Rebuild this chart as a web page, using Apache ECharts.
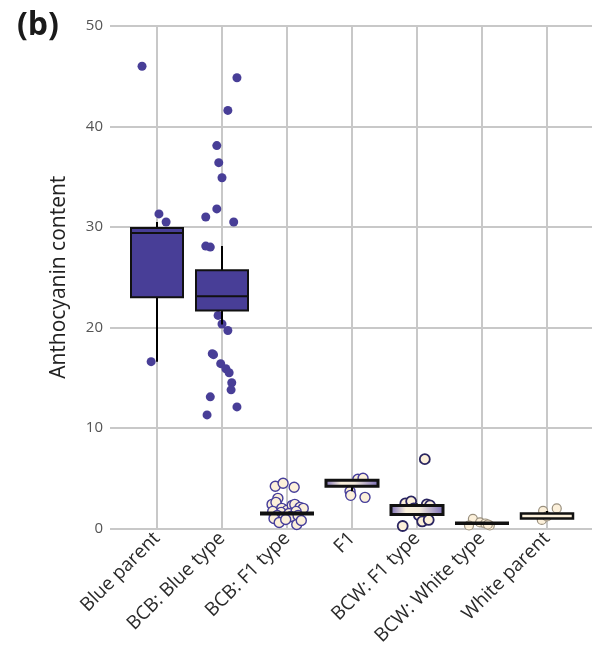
<!DOCTYPE html>
<html><head><meta charset="utf-8">
<script src="https://cdn.jsdelivr.net/npm/echarts@6/dist/echarts.min.js"></script>
<style>html,body{margin:0;padding:0;background:#fff}#c{width:592px;height:652px}</style>
</head><body><div id="c"></div>
<script>
// ---------- data ----------
const categories = ['Blue parent','BCB: Blue type','BCB: F1 type','F1','BCW: F1 type','BCW: White type','White parent'];
const yTicks = [0, 10, 20, 30, 40, 50];

// box statistics per category
const boxMin    = [16.6, 20.3, 1.45, 3.7, 1.4, 0.45, 1.0];
const boxQ1     = [23.0, 21.7, 1.4,  4.2, 1.4, 0.45, 1.0];
const boxMedian = [29.4, 23.1, 1.5,  4.75, 2.25, 0.5, 1.25];
const boxQ3     = [29.9, 25.7, 1.6,  4.8, 2.3, 0.6, 1.5];
const boxMax    = [30.5, 28.1, 1.6,  4.8, 2.5, 0.6, 1.75];

// jittered points: [horizontal jitter (fraction of category spacing), value]
const blueParentPts = [[-0.23,46.0],[0.03,31.3],[0.14,30.5],[-0.09,16.6]];
const bcbBlueTypePts = [
  [0.23,44.85],[0.09,41.6],[-0.08,38.1],[-0.05,36.4],[0.0,34.9],[-0.08,31.8],
  [-0.25,31.0],[0.18,30.5],[-0.25,28.1],[-0.18,28.0],[-0.06,21.2],[0.0,20.35],
  [0.09,19.7],[-0.15,17.4],[-0.13,17.3],[-0.02,16.4],[0.06,15.9],[0.11,15.5],
  [0.15,14.5],[0.14,13.8],[-0.18,13.1],[0.23,12.1],[-0.23,11.3]
];
const bcbF1TypePts = [
  [-0.18,4.2],[-0.06,4.5],[0.11,4.1],[-0.14,3.0],[-0.23,2.4],[-0.17,2.6],
  [-0.08,2.0],[0.0,1.8],[0.08,2.3],[0.12,2.4],[0.2,2.1],[0.25,2.0],
  [-0.22,1.7],[-0.09,1.6],[0.03,1.5],[0.14,1.7],[-0.15,1.3],[-0.05,1.1],
  [0.06,1.2],[0.17,1.3],[-0.2,1.0],[-0.12,0.6],[0.15,0.4],[0.22,0.8],[-0.02,0.9]
];
const f1Pts = [[-0.03,3.7],[-0.02,3.3],[0.2,3.1],[0.09,4.9],[0.17,5.0]];
const bcwF1TypePts = [
  [0.12,6.9],[-0.18,2.5],[-0.09,2.7],[0.15,2.4],[0.2,2.3],[-0.05,2.0],
  [0.1,1.8],[0.03,1.3],[0.08,0.7],[0.18,0.85],[-0.22,0.25]
];
const bcwWhiteTypePts = [[-0.14,0.95],[-0.2,0.3],[-0.03,0.6],[0.05,0.5],[0.12,0.3],[0.09,0.4]];
const whiteParentPts = [[-0.06,1.75],[0.15,2.0],[-0.08,0.85],[0.0,1.2]];

// ---------- styles ----------
const BLUE = '#483e97';
const CREAM = '#fcf0da';
const grad = () => new echarts.graphic.LinearGradient(0,0,1,0,[
  {offset:0, color:'#7466b4'},{offset:0.3, color:'#fbf1dc'},
  {offset:0.55, color:'#f2e9dc'},{offset:1, color:'#7466b4'}]);
const boxStyles = [
  {fill: BLUE, lw: 2, med: 2},
  {fill: BLUE, lw: 2, med: 2},
  {fill: '#000', lw: 2, med: 2},
  {fill: 'grad', lw: 3, med: 0},
  {fill: 'grad', lw: 3, med: 0},
  {fill: '#000', lw: 2, med: 2},
  {fill: CREAM, lw: 2.5, med: 0}
];
const pointGroups = [
  {pts: blueParentPts,  fill: BLUE,  border: BLUE,     size: 9, bw: 0},
  {pts: bcbBlueTypePts, fill: BLUE,  border: BLUE,     size: 9, bw: 0},
  {pts: bcbF1TypePts,   fill: CREAM, border: '#463e9a', size: 10, bw: 1.4},
  {pts: f1Pts,          fill: CREAM, border: '#463e9a', size: 10, bw: 1.4},
  {pts: bcwF1TypePts,   fill: CREAM, border: '#2a2560', size: 10, bw: 1.8},
  {pts: bcwWhiteTypePts,fill: CREAM, border: '#9a907e', size: 9, bw: 1.2},
  {pts: whiteParentPts, fill: CREAM, border: '#9a907e', size: 9, bw: 1.2}
];

const GRID_COLOR = '#c8c8c8';
const chart = echarts.init(document.getElementById('c'));

const scatterSeries = pointGroups.map((g, ci) => ({
  type: 'scatter', xAxisIndex: 2, yAxisIndex: 1, z: 3, clip: false,
  symbolSize: g.size,
  itemStyle: {color: g.fill, borderColor: g.border, borderWidth: g.bw, opacity: 1},
  data: g.pts.map(p => [ci + p[0], p[1]])
}));

const boxSeries = {
  type: 'custom', xAxisIndex: 2, yAxisIndex: 1, z: 5, clip: false,
  data: categories.map((c, i) => [i, boxMin[i], boxQ1[i], boxMedian[i], boxQ3[i], boxMax[i]]),
  renderItem: function (params, api) {
    const i = api.value(0);
    const half = api.size([0.8, 0])[0] / 2;
    const cx = api.coord([i, 0])[0];
    const yv = k => api.coord([i, api.value(k)])[1];
    const yMin = yv(1), yQ1 = yv(2), yMed = yv(3), yQ3 = yv(4), yMax = yv(5);
    const st = boxStyles[params.dataIndex];
    const ch = [];
    ch.push({type:'line', shape:{x1:cx,y1:yMin,x2:cx,y2:yQ1}, style:{stroke:'#000', lineWidth:2}});
    ch.push({type:'line', shape:{x1:cx,y1:yQ3,x2:cx,y2:yMax}, style:{stroke:'#000', lineWidth:2}});
    ch.push({type:'rect', shape:{x:cx-half, y:yQ3, width:2*half, height:Math.max(yQ1-yQ3, 0.5)},
      style:{fill: st.fill === 'grad' ? grad() : st.fill, stroke:'#111', lineWidth: st.lw}});
    if (st.med > 0) ch.push({type:'line', shape:{x1:cx-half,y1:yMed,x2:cx+half,y2:yMed}, style:{stroke:'#111', lineWidth:st.med}});
    return {type:'group', children: ch};
  }
};

const FONT = 'Open Sans';
chart.setOption({
  animation: false,
  backgroundColor: '#fff',
  textStyle: {fontFamily: FONT},
  title: {text: '(b)', left: 12, top: 5, textStyle: {fontSize: 32, fontWeight: 'bold', color: '#1a1a1a', fontFamily: FONT}},
  grid: [
    {left: 110, right: 0, top: 26, bottom: 123.5},
    {left: 157, right: 45, top: 26, bottom: 123.5}
  ],
  xAxis: [
    {gridIndex: 0, type: 'value', show: false, min: 0, max: 1},
    {gridIndex: 1, type: 'category', data: categories, boundaryGap: false,
      axisLine: {show: false}, axisTick: {show: false},
      splitLine: {show: true, interval: 0, lineStyle: {color: GRID_COLOR, width: 2}},
      axisLabel: {rotate: 45, interval: 0, fontSize: 19, color: '#2a2a2a', margin: 7, fontFamily: FONT}},
    {gridIndex: 1, type: 'value', show: false, min: 0, max: 6}
  ],
  yAxis: [
    {gridIndex: 0, type: 'value', min: yTicks[0], max: yTicks[yTicks.length-1], interval: 10,
      axisLine: {show: false}, axisTick: {show: false},
      splitLine: {show: true, lineStyle: {color: GRID_COLOR, width: 2}},
      axisLabel: {fontSize: 15, color: '#555', margin: 7, fontFamily: FONT},
      name: 'Anthocyanin content', nameLocation: 'middle', nameGap: 40,
      nameTextStyle: {fontSize: 21, color: '#222', fontFamily: FONT}},
    {gridIndex: 1, type: 'value', min: 0, max: 50, show: false}
  ],
  series: [...scatterSeries, boxSeries]
});
</script></body></html>
